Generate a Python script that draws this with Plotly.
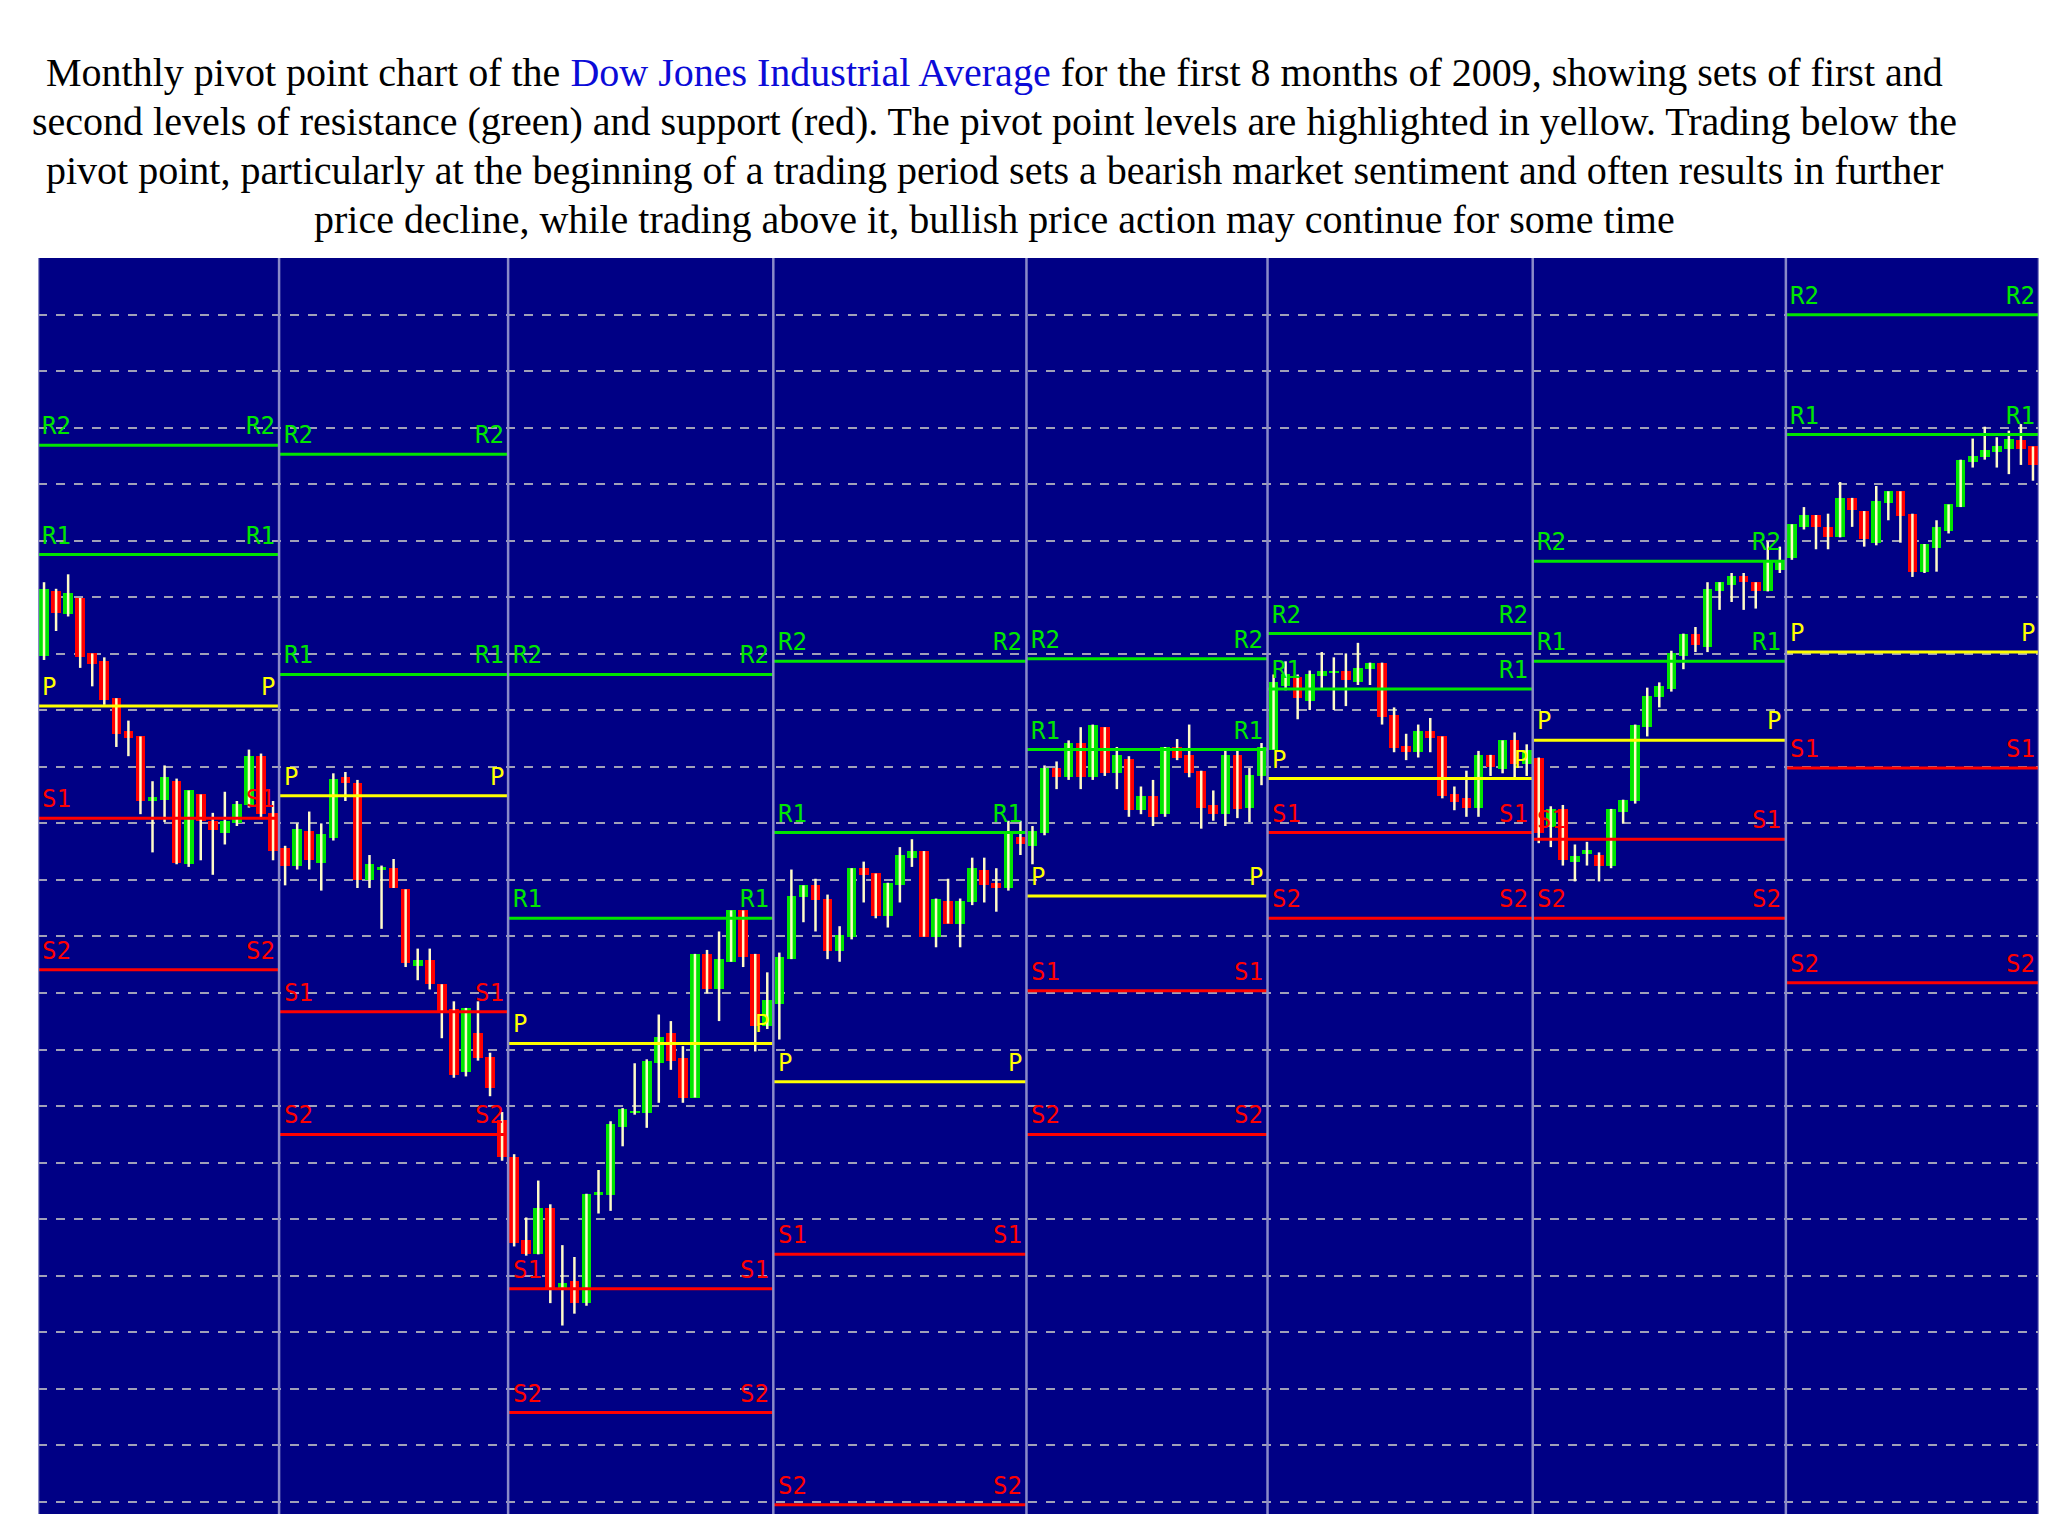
import numpy as np
import plotly.graph_objects as go

MONTHS = ['Jan', 'Feb', 'Mar', 'Apr', 'May', 'Jun', 'Jul', 'Aug']

# daily OHLC per month (index points)
OPEN = {
    'Jan': [8905, 9150, 9065, 9125, 8915, 8885, 8745, 8620, 8600, 8355, 8360, 8430, 8115, 8380, 8280, 8235, 8270, 8340, 8525, 8310],
    'Feb': [8175, 8110, 8240, 8120, 8215, 8445, 8425, 8055, 8095, 8100, 8020, 7730, 7750, 7660, 7565, 7325, 7475, 7385, 7145],
    'Mar': [7005, 6690, 6635, 6810, 6500, 6535, 6450, 6860, 6860, 7120, 7170, 7170, 7360, 7475, 7380, 7230, 7775, 7640, 7745, 7940, 7775, 7500],
    'Apr': [7585, 7755, 7990, 8035, 7985, 7785, 7840, 8100, 8080, 7920, 8035, 8140, 8165, 7840, 7975, 7890, 7970, 8095, 8045, 8025, 8220],
    'May': [8185, 8235, 8480, 8445, 8575, 8445, 8635, 8460, 8515, 8320, 8375, 8305, 8560, 8530, 8470, 8340, 8305, 8530, 8330, 8450],
    'Jun': [8550, 8790, 8825, 8735, 8830, 8840, 8850, 8805, 8855, 8880, 8680, 8565, 8540, 8620, 8600, 8380, 8365, 8330, 8530, 8475, 8585, 8495],
    'Jul': [8520, 8255, 8325, 8125, 8155, 8150, 8110, 8315, 8355, 8635, 8750, 8780, 8905, 8990, 8940, 9150, 9175, 9210, 9185, 9150, 9230],
    'Aug': [9275, 9395, 9440, 9395, 9355, 9505, 9455, 9335, 9485, 9530, 9445, 9225, 9315, 9380, 9470, 9640, 9660, 9680, 9690, 9725, 9700],
}
HIGH = {
    'Jan': [9185, 9160, 9215, 9125, 8915, 8900, 8745, 8660, 8600, 8430, 8490, 8440, 8395, 8380, 8310, 8390, 8355, 8550, 8535, 8355],
    'Feb': [8185, 8270, 8315, 8270, 8460, 8465, 8435, 8150, 8110, 8135, 8020, 7795, 7795, 7660, 7595, 7570, 7595, 7400, 7175],
    'Mar': [7015, 6775, 6915, 6825, 6670, 6625, 6865, 6955, 7140, 7190, 7360, 7375, 7545, 7520, 7425, 7775, 7790, 7860, 7940, 7940, 7775, 7705],
    'Apr': [7780, 8095, 8035, 8060, 8000, 7880, 8100, 8125, 8080, 8045, 8180, 8210, 8165, 7985, 8060, 7985, 8140, 8140, 8100, 8280, 8280],
    'May': [8260, 8490, 8505, 8585, 8635, 8645, 8635, 8560, 8525, 8410, 8435, 8560, 8590, 8645, 8470, 8395, 8545, 8545, 8480, 8575],
    'Jun': [8835, 8885, 8835, 8850, 8920, 8900, 8915, 8955, 8880, 8880, 8710, 8610, 8645, 8670, 8600, 8410, 8470, 8545, 8530, 8585, 8615, 8570],
    'Jul': [8520, 8335, 8340, 8190, 8200, 8160, 8325, 8360, 8645, 8785, 8805, 8925, 8990, 9015, 9185, 9185, 9220, 9220, 9185, 9340, 9320],
    'Aug': [9405, 9470, 9440, 9445, 9565, 9505, 9455, 9550, 9530, 9530, 9445, 9330, 9420, 9480, 9650, 9730, 9775, 9735, 9760, 9785, 9700],
}
LOW = {
    'Jan': [8890, 9000, 9055, 8860, 8790, 8720, 8560, 8525, 8305, 8160, 8275, 8115, 8105, 8130, 8075, 8190, 8260, 8330, 8290, 8130],
    'Feb': [8035, 8095, 8095, 8015, 8205, 8355, 8025, 8025, 7870, 8025, 7725, 7675, 7640, 7455, 7305, 7310, 7370, 7235, 6990],
    'Mar': [6665, 6630, 6635, 6450, 6365, 6410, 6440, 6790, 6800, 7045, 7165, 7115, 7210, 7335, 7210, 7230, 7625, 7520, 7745, 7725, 7405, 7490],
    'Apr': [7450, 7755, 7895, 7860, 7755, 7745, 7830, 7970, 7910, 7875, 7970, 8105, 7840, 7800, 7890, 7800, 7960, 7970, 7935, 8015, 8150],
    'May': [8115, 8225, 8400, 8435, 8400, 8435, 8450, 8400, 8295, 8305, 8260, 8295, 8510, 8445, 8250, 8280, 8260, 8290, 8275, 8415],
    'Jun': [8550, 8775, 8665, 8700, 8780, 8700, 8715, 8795, 8795, 8645, 8540, 8510, 8520, 8540, 8365, 8320, 8295, 8295, 8450, 8460, 8445, 8450],
    'Jul': [8195, 8180, 8110, 8050, 8110, 8050, 8100, 8270, 8345, 8600, 8710, 8770, 8855, 8920, 8920, 9080, 9110, 9080, 9085, 9150, 9220],
    'Aug': [9270, 9385, 9310, 9310, 9355, 9395, 9320, 9325, 9420, 9335, 9205, 9220, 9225, 9370, 9470, 9620, 9650, 9620, 9595, 9630, 9570],
}
CLOSE = {
    'Jan': [9160, 9070, 9145, 8900, 8875, 8740, 8610, 8595, 8355, 8370, 8445, 8120, 8395, 8280, 8245, 8280, 8345, 8525, 8305, 8165],
    'Feb': [8110, 8250, 8130, 8230, 8440, 8425, 8055, 8115, 8105, 8025, 7740, 7750, 7660, 7560, 7315, 7570, 7380, 7265, 7005],
    'Mar': [6680, 6635, 6810, 6500, 6525, 6450, 6865, 6870, 7130, 7185, 7180, 7370, 7460, 7370, 7230, 7775, 7640, 7755, 7940, 7765, 7500, 7600],
    'Apr': [7765, 7995, 8035, 7980, 7785, 7845, 8100, 8075, 7920, 8045, 8150, 8165, 7840, 7985, 7890, 7975, 8100, 8035, 8025, 8230, 8190],
    'May': [8240, 8480, 8445, 8575, 8445, 8645, 8460, 8530, 8320, 8375, 8295, 8560, 8520, 8460, 8330, 8305, 8530, 8325, 8455, 8560],
    'Jun': [8805, 8835, 8745, 8835, 8850, 8845, 8815, 8860, 8880, 8675, 8555, 8540, 8620, 8595, 8375, 8350, 8330, 8530, 8485, 8585, 8495, 8550],
    'Jul': [8235, 8325, 8130, 8145, 8170, 8110, 8325, 8360, 8645, 8755, 8790, 8915, 8990, 8945, 9160, 9185, 9210, 9185, 9150, 9260, 9270],
    'Aug': [9405, 9440, 9395, 9355, 9505, 9460, 9350, 9495, 9530, 9435, 9225, 9330, 9395, 9480, 9650, 9665, 9685, 9700, 9730, 9690, 9630],
}

# monthly pivot levels
R2 = [9705, 9670, 8835, 8885, 8895, 8990, 9265, 10200]
R1 = [9290, 8835, 7910, 8235, 8550, 8780, 8885, 9745]
PIVOT = [8715, 8375, 7435, 7290, 7995, 8440, 8585, 8920]
S1 = [8290, 7555, 6505, 6635, 7635, 8235, 8210, 8480]
S2 = [7715, 7090, 6035, 5685, 7090, 7910, 7910, 7665]

BG = '#000085'
GREEN = '#00e600'
RED = '#ff0000'
YELLOW = '#ffff00'
WICK = '#fffbc8'

o = np.concatenate([OPEN[m] for m in MONTHS])
h = np.concatenate([HIGH[m] for m in MONTHS])
l = np.concatenate([LOW[m] for m in MONTHS])
c = np.concatenate([CLOSE[m] for m in MONTHS])
x = np.arange(len(c))
counts = [len(CLOSE[m]) for m in MONTHS]
bounds = np.concatenate([[0], np.cumsum(counts)]) - 0.5

fig = go.Figure()

# wicks
wx, wy = [], []
for xi, lo, hi in zip(x, l, h):
    wx += [xi, xi, None]
    wy += [lo, hi, None]
fig.add_trace(go.Scatter(x=wx, y=wy, mode='lines', line=dict(color=WICK, width=2.5),
                         hoverinfo='skip', showlegend=False))

# bodies
fig.add_trace(go.Bar(
    x=x, base=np.minimum(o, c), y=np.maximum(np.abs(c - o), 10),
    marker=dict(color=[GREEN if ci >= oi else RED for oi, ci in zip(o, c)], line=dict(width=0)),
    width=0.8, showlegend=False,
))

# pivot levels
levels = [('R2', R2, GREEN), ('R1', R1, GREEN), ('P', PIVOT, YELLOW),
          ('S1', S1, RED), ('S2', S2, RED)]
for name, vals, color in levels:
    for i, v in enumerate(vals):
        x0, x1 = bounds[i], bounds[i + 1]
        fig.add_trace(go.Scatter(x=[x0, x1], y=[v, v], mode='lines',
                                 line=dict(color=color, width=3),
                                 hoverinfo='skip', showlegend=False))
        for xp, anchor in [(x0 + 0.2, 'left'), (x1 - 0.2, 'right')]:
            fig.add_annotation(x=xp, y=v, text=name, showarrow=False,
                               xanchor=anchor, yanchor='bottom', yshift=3,
                               font=dict(family='DejaVu Sans Mono', size=24, color=color))

for b in bounds:
    fig.add_vline(x=b, line=dict(color='#8a8ac8', width=2.5))

title_lines = [
    'Monthly pivot point chart of the <span style="color:#0b0bd8">Dow Jones Industrial Average</span> '
    'for the first 8 months of 2009, showing sets of first and',
    'second levels of resistance (green) and support (red). The pivot point levels are highlighted in yellow. Trading below the',
    'pivot point, particularly at the beginning of a trading period sets a bearish market sentiment and often results in further',
    'price decline, while trading above it, bullish price action may continue for some time',
]
for line, yp in zip(title_lines, [1.167, 1.128, 1.089, 1.05]):
    fig.add_annotation(x=0.478, y=yp, xref='paper', yref='paper', text=line, showarrow=False,
                       font=dict(family='Liberation Serif', size=40, color='black'))

fig.update_layout(
    width=2048, height=1536,
    margin=dict(l=30, r=17, t=250, b=30),
    paper_bgcolor='white', plot_bgcolor=BG,
    bargap=0, showlegend=False,
    xaxis=dict(range=[bounds[0], bounds[-1]], showgrid=False, showticklabels=False,
               zeroline=False, ticks=''),
    yaxis=dict(range=[5650, 10415], tick0=10415, dtick=214.5, showgrid=True,
               gridcolor='#a0a0b8', gridwidth=2, griddash='dash',
               showticklabels=False, zeroline=False, ticks=''),
)

fig.write_html('out.html')
